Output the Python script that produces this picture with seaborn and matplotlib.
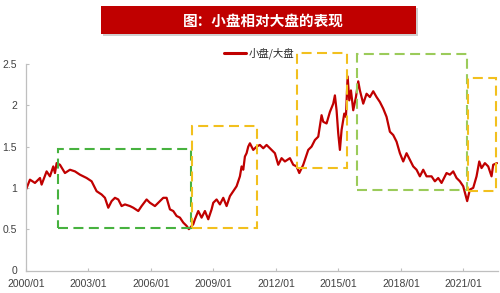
import matplotlib
matplotlib.use("Agg")
import matplotlib.pyplot as plt
from matplotlib.patches import Rectangle
import seaborn as sns
import pandas as pd

# ---- data ----
years = [2000.00, 2000.19, 2000.43, 2000.67, 2000.75, 2000.99, 2001.15, 2001.31, 2001.39, 2001.47,
         2001.63, 2001.87, 2002.11, 2002.35, 2002.59, 2002.91, 2003.15, 2003.39, 2003.63, 2003.79,
         2003.95, 2004.11, 2004.27, 2004.43, 2004.59, 2004.75, 2004.99, 2005.15, 2005.39, 2005.55,
         2005.79, 2005.95, 2006.19, 2006.43, 2006.59, 2006.75, 2006.91, 2007.07, 2007.23, 2007.39,
         2007.55, 2007.71, 2007.82, 2008.03, 2008.11, 2008.27, 2008.43, 2008.59, 2008.75, 2008.91,
         2008.99, 2009.15, 2009.31, 2009.47, 2009.63, 2009.79, 2009.95, 2010.11, 2010.27, 2010.35,
         2010.43, 2010.51, 2010.59, 2010.67, 2010.75, 2010.91, 2011.07, 2011.23, 2011.39, 2011.55,
         2011.79, 2011.95, 2012.11, 2012.27, 2012.43, 2012.67, 2012.83, 2012.99, 2013.12, 2013.31,
         2013.55, 2013.71, 2013.87, 2014.03, 2014.19, 2014.27, 2014.43, 2014.59, 2014.75, 2014.83,
         2014.91, 2014.99, 2015.07, 2015.15, 2015.28, 2015.36, 2015.44, 2015.52, 2015.60, 2015.71,
         2015.84, 2015.95, 2016.03, 2016.19, 2016.35, 2016.51, 2016.67, 2016.83, 2016.99, 2017.15,
         2017.31, 2017.47, 2017.63, 2017.79, 2017.95, 2018.11, 2018.27, 2018.43, 2018.59, 2018.75,
         2018.91, 2019.07, 2019.23, 2019.47, 2019.63, 2019.79, 2019.95, 2020.19, 2020.35, 2020.51,
         2020.67, 2020.83, 2020.99, 2021.12, 2021.18, 2021.31, 2021.47, 2021.63, 2021.76, 2021.87,
         2022.03, 2022.19, 2022.35, 2022.43, 2022.61]
ratio = [0.98, 1.10, 1.06, 1.12, 1.04, 1.20, 1.14, 1.26, 1.18, 1.30,
         1.28, 1.18, 1.22, 1.20, 1.16, 1.12, 1.08, 0.96, 0.92, 0.88,
         0.76, 0.84, 0.88, 0.86, 0.78, 0.80, 0.78, 0.76, 0.72, 0.78,
         0.86, 0.82, 0.78, 0.84, 0.88, 0.88, 0.74, 0.72, 0.66, 0.64,
         0.58, 0.54, 0.50, 0.56, 0.62, 0.72, 0.64, 0.72, 0.62, 0.74,
         0.82, 0.86, 0.80, 0.88, 0.78, 0.90, 0.96, 1.02, 1.14, 1.26,
         1.22, 1.38, 1.42, 1.50, 1.54, 1.46, 1.50, 1.52, 1.48, 1.52,
         1.46, 1.42, 1.28, 1.36, 1.32, 1.36, 1.28, 1.26, 1.18, 1.28,
         1.46, 1.50, 1.58, 1.62, 1.88, 1.80, 1.78, 1.92, 2.02, 2.12,
         1.94, 1.66, 1.46, 1.70, 1.90, 1.86, 2.35, 2.06, 2.18, 1.94,
         2.10, 2.29, 2.18, 2.02, 2.14, 2.10, 2.17, 2.10, 2.04, 1.96,
         1.86, 1.68, 1.64, 1.56, 1.42, 1.32, 1.42, 1.34, 1.26, 1.22,
         1.14, 1.22, 1.14, 1.14, 1.08, 1.12, 1.06, 1.18, 1.16, 1.20,
         1.12, 1.08, 1.02, 0.90, 0.84, 0.98, 1.00, 1.14, 1.32, 1.24,
         1.30, 1.26, 1.14, 1.28, 1.30]

tick_years = [2000, 2003, 2006, 2009, 2012, 2015, 2018, 2021]
tick_labels = ["2000/01", "2003/01", "2006/01", "2009/01", "2012/01", "2015/01", "2018/01", "2021/01"]
y_ticks = [0, 0.5, 1, 1.5, 2, 2.5]
y_labels = ["0", "0.5", "1", "1.5", "2", "2.5"]

# highlighted periods: (x0, x1, y0, y1, colour)
box_x0 = [2001.55, 2007.97, 2013.00, 2015.87, 2021.23]
box_x1 = [2007.90, 2011.10, 2015.40, 2021.15, 2022.55]
box_y0 = [0.515, 0.51, 1.24, 0.97, 0.96]
box_y1 = [1.473, 1.75, 2.63, 2.62, 2.33]
box_colors = ["#47b23f", "#f2c01e", "#f2c01e", "#9bcb5a", "#f2c01e"]

title = "图：小盘相对大盘的表现"
series_name = "小盘/大盘"

# ---- plotting ----
sns.set_theme(style="white")
plt.rcParams["font.family"] = ["Liberation Sans", "Noto Sans CJK SC", "DejaVu Sans"]

fig = plt.figure(figsize=(5.0, 2.93), dpi=100)
ax = fig.add_axes([26 / 500, 1 - 270.5 / 293, 472 / 500, (270.5 - 64) / 293])

df = pd.DataFrame({"year": years, "ratio": ratio})
sns.lineplot(data=df, x="year", y="ratio", ax=ax, color="#c00000", linewidth=1.6,
             label=series_name, zorder=2)

for x0, x1, y0, y1, c in zip(box_x0, box_x1, box_y0, box_y1, box_colors):
    r = Rectangle((x0, y0), x1 - x0, y1 - y0, fill=False, edgecolor=c, linewidth=1.5,
                  linestyle=(0, (4.8, 2.6)), clip_on=False, zorder=3)
    ax.add_patch(r)

ax.set_xlim(2000, 2022.66)
ax.set_ylim(0, 2.5)
ax.set_xticks(tick_years)
ax.set_xticklabels(tick_labels)
ax.set_yticks(y_ticks)
ax.set_yticklabels(y_labels)
ax.set_xlabel("")
ax.set_ylabel("")

for s in ["top", "right"]:
    ax.spines[s].set_visible(False)
for s in ["left", "bottom"]:
    ax.spines[s].set_color("#bfbfbf")
    ax.spines[s].set_linewidth(0.9)

ax.tick_params(axis="both", direction="in", length=2.5, width=0.8, color="#bfbfbf",
               labelsize=7.5, labelcolor="#404040", left=True, bottom=True)
ax.tick_params(axis="x", pad=6)
ax.tick_params(axis="y", pad=6.5)

leg = ax.legend(loc="center", bbox_to_anchor=(259 / 500, 1 - 53 / 293),
                bbox_transform=fig.transFigure, frameon=False,
                handlelength=2.1, handletextpad=0.25, borderpad=0,
                prop={"family": ["Noto Sans CJK SC", "DejaVu Sans"], "size": 7.5})
for h in leg.get_lines():
    h.set_linewidth(2.2)
for t in leg.get_texts():
    t.set_color("#262626")

# title banner
shadow = Rectangle((103 / 500, 1 - 36 / 293), 315 / 500, 28 / 293, transform=fig.transFigure,
                   facecolor="#b0b0b0", edgecolor="none", alpha=0.6, zorder=0)
banner = Rectangle((101 / 500, 1 - 34 / 293), 315 / 500, 28 / 293, transform=fig.transFigure,
                   facecolor="#c00000", edgecolor="none", zorder=1)
fig.patches.extend([shadow, banner])
fig.text(263 / 500, 1 - 20.5 / 293, title, color="white", fontsize=10.5, fontweight="bold",
         ha="center", va="center", family=["Noto Sans CJK SC", "DejaVu Sans"], zorder=2)

fig.savefig("out.png", dpi=100)
